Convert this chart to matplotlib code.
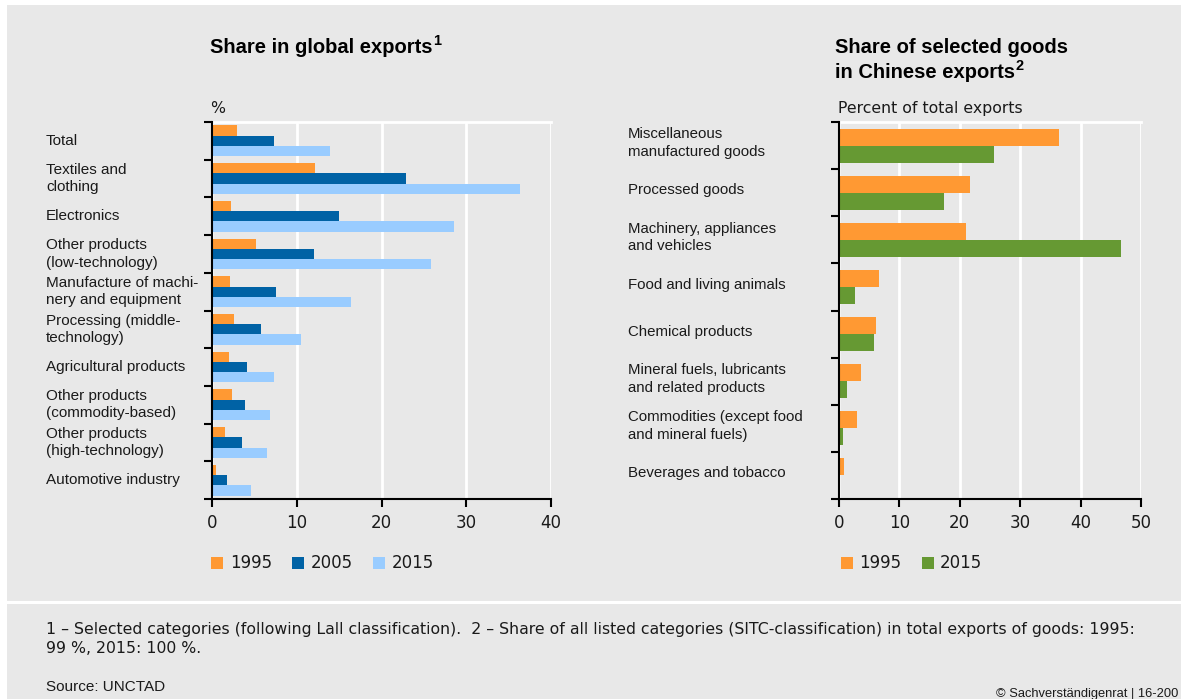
import matplotlib
matplotlib.use("Agg")
import matplotlib.pyplot as plt
from matplotlib.patches import Rectangle
import matplotlib.transforms as mtransforms
import numpy as np

# ---------------- data ----------------
left_categories = [
    "Total", "Textiles and\nclothing", "Electronics", "Other products\n(low-technology)",
    "Manufacture of machi-\nnery and equipment", "Processing (middle-\ntechnology)",
    "Agricultural products", "Other products\n(commodity-based)",
    "Other products\n(high-technology)", "Automotive industry",
]
left_years = ["1995", "2005", "2015"]
left_1995 = [2.9, 12.2, 2.2, 5.2, 2.1, 2.6, 2.0, 2.4, 1.5, 0.5]
left_2005 = [7.3, 22.9, 15.0, 12.0, 7.5, 5.8, 4.1, 3.9, 3.5, 1.8]
left_2015 = [13.9, 36.4, 28.5, 25.8, 16.4, 10.5, 7.3, 6.8, 6.5, 4.6]
left_ticks = [0, 10, 20, 30, 40]

right_categories = [
    "Miscellaneous\nmanufactured goods", "Processed goods",
    "Machinery, appliances\nand vehicles", "Food and living animals",
    "Chemical products", "Mineral fuels, lubricants\nand related products",
    "Commodities (except food\nand mineral fuels)", "Beverages and tobacco",
]
right_years = ["1995", "2015"]
right_1995 = [36.4, 21.7, 21.0, 6.7, 6.1, 3.6, 2.9, 0.9]
right_2015 = [25.7, 17.4, 46.7, 2.6, 5.8, 1.3, 0.6, 0.2]
right_ticks = [0, 10, 20, 30, 40, 50]

# ---------------- style ----------------
W, H = 1181, 699
BG = "#e8e8e8"
ORANGE = "#ff9933"
DBLUE = "#0062a5"
LBLUE = "#99ccff"
GREEN = "#669933"
TXT = "#1a1a1a"
SANS = ["Liberation Sans", "DejaVu Sans"]
WIDE = ["DejaVu Sans"]
NUM = ["DejaVu Sans"]

fig = plt.figure(figsize=(W / 100, H / 100), dpi=100)
fig.patch.set_facecolor("white")

def fx(px):
    return px / W

def fy(py):
    return 1 - py / H

# background panels
fig.add_artist(Rectangle((fx(7), fy(601)), 1 - fx(7), fy(5) - fy(601),
                         transform=fig.transFigure, facecolor=BG, edgecolor="none", zorder=0))
fig.add_artist(Rectangle((fx(7), 0), 1 - fx(7), fy(604),
                         transform=fig.transFigure, facecolor=BG, edgecolor="none", zorder=0))


def style_axes(ax, ticks, xmax, n):
    ax.set_facecolor(BG)
    ax.set_xlim(0, xmax)
    ax.set_ylim(n - 0.5, -0.5)
    ax.set_xticks(ticks)
    ax.set_xticklabels([str(t) for t in ticks], fontsize=12, family=NUM, color=TXT)
    ax.set_yticks(np.arange(n + 1) - 0.5)
    ax.set_yticklabels([])
    ax.tick_params(axis="y", direction="out", length=6, width=1.5, color="black")
    ax.tick_params(axis="x", direction="out", length=6, width=1.5, color="black", pad=5)
    ax.grid(axis="x", color="white", linewidth=2, zorder=0)
    ax.set_axisbelow(True)
    ax.spines["left"].set_color("black")
    ax.spines["left"].set_linewidth(1.5)
    ax.spines["left"].set_zorder(5)
    ax.spines["bottom"].set_color("black")
    ax.spines["bottom"].set_linewidth(1.5)
    ax.spines["top"].set_color("white")
    ax.spines["top"].set_linewidth(2)
    ax.spines["right"].set_visible(False)


# ---------------- left chart ----------------
axL = fig.add_axes([fx(212), fy(499), fx(551) - fx(212), fy(122) - fy(499)])
nL = len(left_categories)
y = np.arange(nL)
bh = 0.273
for vals, col, off in zip([left_1995, left_2005, left_2015], [ORANGE, DBLUE, LBLUE], [-bh, 0, bh]):
    axL.barh(y + off, vals, height=bh, color=col, zorder=3, linewidth=0)
style_axes(axL, left_ticks, 40, nL)
tL = mtransforms.blended_transform_factory(fig.transFigure, axL.transData)
for i, lab in enumerate(left_categories):
    fig.text(fx(46), i, lab, transform=tL, ha="left", va="center", fontsize=11,
             family=SANS, color=TXT, linespacing=1.3)

# ---------------- right chart ----------------
axR = fig.add_axes([fx(839), fy(499), fx(1141) - fx(839), fy(122) - fy(499)])
nR = len(right_categories)
y2 = np.arange(nR)
bh2 = 0.36
for vals, col, off in zip([right_1995, right_2015], [ORANGE, GREEN], [-bh2 / 2, bh2 / 2]):
    axR.barh(y2 + off, vals, height=bh2, color=col, zorder=3, linewidth=0)
style_axes(axR, right_ticks, 50, nR)
tR = mtransforms.blended_transform_factory(fig.transFigure, axR.transData)
for i, lab in enumerate(right_categories):
    fig.text(fx(628), i - 0.05, lab, transform=tR, ha="left", va="center", fontsize=10.8,
             family=SANS, color=TXT, linespacing=1.35)

# ---------------- titles ----------------
renderer = fig.canvas.get_renderer()

def title_with_sup(x, yb, main, sup):
    t = fig.text(fx(x), fy(yb), main, fontsize=14.5, fontweight="bold",
                 family=SANS, color="black", va="baseline")
    bb = t.get_window_extent(renderer=renderer)
    fig.text(bb.x1 / W + fx(1), fy(yb - 8), sup, fontsize=10.5, fontweight="bold",
             family=SANS, color="black", va="baseline")

title_with_sup(210, 53, "Share in global exports", "1")
fig.text(fx(835), fy(53), "Share of selected goods", fontsize=14.5, fontweight="bold",
         family=SANS, color="black", va="baseline")
title_with_sup(835, 78, "in Chinese exports", "2")
fig.text(fx(210), fy(113), "%", fontsize=11.3, family=WIDE, color=TXT, va="baseline")
fig.text(fx(838), fy(113), "Percent of total exports", fontsize=11.3, family=WIDE, color=TXT,
         va="baseline")

# ---------------- legends ----------------
def legend(items, xs_sq, xs_txt, ycen):
    for (lab, col), xs, xt in zip(items, xs_sq, xs_txt):
        fig.add_artist(Rectangle((fx(xs), fy(ycen + 6)), fx(12), fy(ycen - 6) - fy(ycen + 6),
                                 transform=fig.transFigure, facecolor=col, edgecolor="none"))
        fig.text(fx(xt), fy(ycen), lab, fontsize=12, family=NUM, color=TXT, va="center", ha="left")

legend(list(zip(left_years, [ORANGE, DBLUE, LBLUE])), [211, 292, 373], [230, 311, 392], 563)
legend(list(zip(right_years, [ORANGE, GREEN])), [841, 922], [859, 940], 563)

# ---------------- footer ----------------
fig.text(fx(46), fy(634),
         "1 \u2013 Selected categories (following Lall classification).  2 \u2013 Share of all listed "
         "categories (SITC-classification) in total exports of goods: 1995:",
         fontsize=11.3, family=WIDE, color=TXT, va="baseline")
fig.text(fx(46), fy(653), "99 %, 2015: 100 %.", fontsize=11.3, family=WIDE, color=TXT, va="baseline")
fig.text(fx(46), fy(691), "Source: UNCTAD", fontsize=11, family=SANS, color=TXT, va="baseline")
fig.text(fx(1178), fy(697), "\u00a9 Sachverst\u00e4ndigenrat | 16-200", fontsize=9.3, family=SANS,
         color=TXT, va="baseline", ha="right")

fig.savefig("out.png", dpi=100, facecolor=fig.get_facecolor())
